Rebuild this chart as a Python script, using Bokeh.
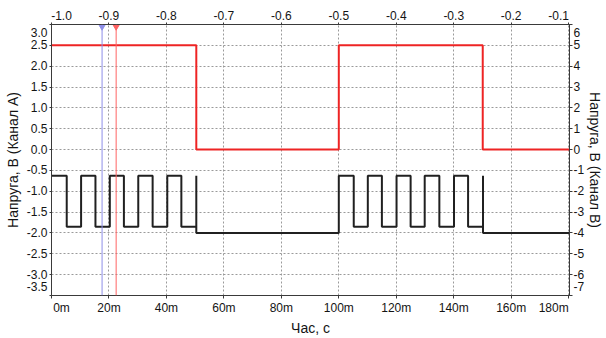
from bokeh.plotting import figure
from bokeh.models import Range1d, LinearAxis, FixedTicker, Span
from bokeh.embed import file_html
from bokeh.resources import INLINE

# ---------------- data ----------------
x_ticks = [0, 20, 40, 60, 80, 100, 120, 140, 160, 180]
x_tick_labels = ["0m", "20m", "40m", "60m", "80m", "100m", "120m", "140m", "160m", "180m"]
top_ticks = [-1.0, -0.9, -0.8, -0.7, -0.6, -0.5, -0.4, -0.3, -0.2, -0.1]
top_tick_labels = ["-1.0", "-0.9", "-0.8", "-0.7", "-0.6", "-0.5", "-0.4", "-0.3", "-0.2", "-0.1"]
left_ticks = [3.0, 2.5, 2.0, 1.5, 1.0, 0.5, 0.0, -0.5, -1.0, -1.5, -2.0, -2.5, -3.0, -3.5]
left_tick_labels = ["3.0", "2.5", "2.0", "1.5", "1.0", "0.5", "0.0", "-0.5", "-1.0", "-1.5",
                    "-2.0", "-2.5", "-3.0", "-3.5"]
right_ticks = [6, 5, 4, 3, 2, 1, 0, -1, -2, -3, -4, -5, -6, -7]
right_tick_labels = ["6", "5", "4", "3", "2", "1", "0", "-1", "-2", "-3", "-4", "-5", "-6", "-7"]

# Channel A (red, left axis), step values: value holds from time[i] to time[i+1]
a_times = [0.0, 50.4, 100.0, 150.1, 181.0]
a_volts = [2.5, 0.0, 2.5, 0.0, 0.0]

# Channel B (black, right axis)
b_times = [0.0, 5.3, 10.3, 15.3, 20.3, 25.2, 30.2, 35.2, 40.3, 45.2, 50.4, 50.4,
           100.0, 105.2, 110.1, 115.0, 120.1, 125.0, 129.9, 135.0, 140.1, 145.0, 150.2, 150.2,
           181.0]
b_volts = [-1.25, -3.7, -1.25, -3.7, -1.25, -3.7, -1.25, -3.7, -1.25, -3.7, -1.25, -4.0,
           -1.25, -3.7, -1.25, -3.7, -1.25, -3.7, -1.25, -3.7, -1.25, -3.7, -1.25, -4.0,
           -4.0]

# cursors
cursor_times = [17.6, 22.5]
cursor_colors = ["#8f8fe8", "#ff6464"]

x_start, x_end = 0.0, 180.3
top_start, top_end = -1.0, -0.0985
left_start, left_end = -3.5, 3.0
right_start, right_end = -7.0, 6.0

x_title = "Час, с"
left_title = "Напруга, В (Канал А)"
right_title = "Напруга, В (Канал В)"

# ---------------- styling ----------------
FONT = "Liberation Sans"
TXT = "#141414"
AX = "#3a3a3a"
GRID = "#9a9a9a"
NB = "\u00a0"

p = figure(width=606, height=338, output_backend="svg", toolbar_location=None,
           x_range=Range1d(x_start, x_end), y_range=Range1d(left_start, left_end),
           min_border_left=51, min_border_right=30, min_border_top=24, min_border_bottom=39)
p.background_fill_color = "white"
p.border_fill_color = "white"
p.outline_line_color = AX
p.outline_line_width = 1

p.extra_x_ranges = {"top": Range1d(top_start, top_end)}
p.extra_y_ranges = {"right": Range1d(right_start, right_end)}


def h_labels(ticks, labels, lead, trail):
    # end labels kept inside the frame: first one left-aligned, last one right-aligned
    d = {t: l for t, l in zip(ticks, labels)}
    d[ticks[0]] = NB * lead + labels[0]
    d[ticks[-1]] = labels[-1] + NB * trail
    return d


def v_labels(ticks, labels):
    # end labels kept inside the frame: top one shifted down, bottom one shifted up
    d = {t: l for t, l in zip(ticks, labels)}
    d[ticks[0]] = "\n" + labels[0]
    d[ticks[-1]] = labels[-1] + "\n"
    return d


def style_axis(ax, ticks, overrides, standoff=2, tick_out=3, title=None, title_standoff=0):
    ax.ticker = FixedTicker(ticks=ticks)
    ax.major_label_overrides = overrides
    ax.major_label_text_font = FONT
    ax.major_label_text_font_size = "12px"
    ax.major_label_text_color = TXT
    ax.major_label_standoff = standoff
    ax.major_tick_out = tick_out
    ax.major_tick_in = 0
    ax.minor_tick_line_color = None
    ax.axis_line_color = AX
    ax.major_tick_line_color = AX
    if title:
        ax.axis_label = title
        ax.axis_label_text_font = FONT
        ax.axis_label_text_font_size = "14px"
        ax.axis_label_text_font_style = "normal"
        ax.axis_label_text_color = TXT
        ax.axis_label_standoff = title_standoff


style_axis(p.xaxis[0], x_ticks, h_labels(x_ticks, x_tick_labels, 6, 9),
           standoff=2, tick_out=3, title=x_title, title_standoff=2)
style_axis(p.yaxis[0], left_ticks, v_labels(left_ticks, left_tick_labels),
           standoff=2, tick_out=2, title=left_title, title_standoff=3)

top_axis = LinearAxis(x_range_name="top")
style_axis(top_axis, top_ticks, h_labels(top_ticks, top_tick_labels, 6, 6),
           standoff=0, tick_out=2)
p.add_layout(top_axis, "above")

right_axis = LinearAxis(y_range_name="right")
style_axis(right_axis, right_ticks, v_labels(right_ticks, right_tick_labels),
           standoff=1, tick_out=3, title=right_title, title_standoff=0)
p.add_layout(right_axis, "right")

for g in (p.xgrid[0], p.ygrid[0]):
    g.grid_line_color = GRID
    g.grid_line_dash = "2 2"
    g.grid_line_width = 1

# ---------------- data glyphs ----------------
p.step(a_times, a_volts, mode="after", line_color="#ee2424", line_width=2)
p.step(b_times, b_volts, mode="after", line_color="#202020", line_width=2,
       y_range_name="right")

for t, c in zip(cursor_times, cursor_colors):
    p.add_layout(Span(location=t, dimension="height", line_color=c, line_width=1))
p.scatter(cursor_times, [left_end - 0.04] * len(cursor_times), marker="inverted_triangle",
          size=7, fill_color=cursor_colors, line_color=cursor_colors)

open("out.html", "w").write(file_html(p, INLINE))
